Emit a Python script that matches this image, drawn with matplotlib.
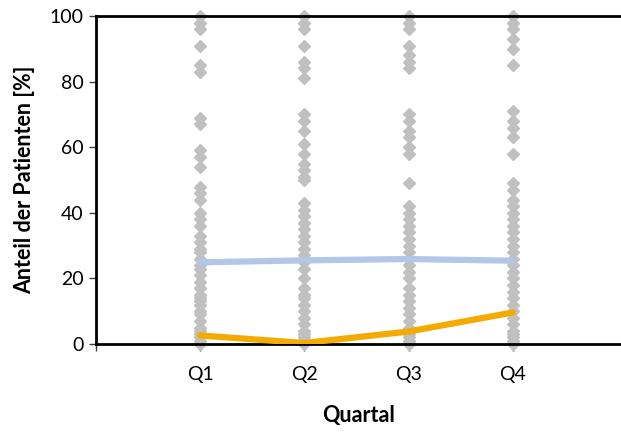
import matplotlib
matplotlib.use("Agg")
import matplotlib.pyplot as plt

# Quartale und Einzelwerte (Anteil der Patienten in %)
quartale = ['Q1', 'Q2', 'Q3', 'Q4']
q1_werte = [100, 98, 96, 91, 85, 83, 69, 67, 59, 57, 54, 48, 46, 44, 40, 38, 36, 33,
            31, 29, 28, 26, 24, 23, 21, 19, 17, 15, 14, 13, 12, 10, 9, 7, 5, 4, 3, 2, 1, 0]
q2_werte = [100, 98, 96, 91, 86, 84, 81, 70, 68, 65, 61, 58, 55, 53, 51, 50, 43, 41, 39,
            37, 35, 33, 31, 29, 27, 25, 23, 20, 17, 15, 14, 12, 10, 8, 6, 4, 3, 2, 1, 0]
q3_werte = [100, 98, 96, 91, 88, 86, 84, 70, 68, 65, 63, 60, 58, 49, 42, 40, 38, 36, 34,
            32, 30, 28, 26, 24, 22, 20, 17, 15, 13, 11, 9, 7, 5, 3, 2, 1, 0]
q4_werte = [100, 98, 96, 93, 90, 85, 71, 68, 66, 63, 58, 49, 47, 44, 42, 40, 38, 36, 34,
            32, 30, 28, 26, 24, 22, 20, 18, 16, 14, 12, 10, 8, 6, 4, 3, 2, 1, 0]
blau_linie = [24.9, 25.5, 25.9, 25.4]
orange_linie = [2.6, 0.3, 3.8, 9.6]

plt.rcParams['font.family'] = ['Lato', 'DejaVu Sans']

fig = plt.figure(figsize=(6.21, 4.32), dpi=100)
ax = fig.add_axes([96/621, 88/432, 525/621, 328/432])

alle = [q1_werte, q2_werte, q3_werte, q4_werte]
for i, werte in enumerate(alle):
    ax.plot([i + 1] * len(werte), werte, linestyle='none', marker='D', ms=6.3,
            color='#c0c0c0', clip_on=False, zorder=2)

xs = range(1, len(quartale) + 1)
ax.plot(xs, blau_linie, color='#b4c6e7', lw=4.5, solid_capstyle='round', zorder=3)
ax.plot(xs, orange_linie, color='#f4aa00', lw=4.5, solid_capstyle='round', zorder=3)

ax.set_xlim(0, 5 * 525 / 521)
ax.set_ylim(0, 100)
ax.set_xticks(range(0, 5))
ax.set_xticklabels([''] + quartale)
ax.set_yticks(range(0, 101, 20))

for s in ['left', 'bottom', 'top']:
    ax.spines[s].set_linewidth(2)
    ax.spines[s].set_color('black')
ax.spines['right'].set_visible(False)

ax.tick_params(axis='both', direction='out', length=5, width=1, color='#404040',
               labelsize=14, labelcolor='black')
ax.tick_params(axis='x', pad=11)
ax.tick_params(axis='y', pad=4)

ax.set_xlabel('Quartal', fontsize=15.5, fontweight='bold', labelpad=16)
ax.set_ylabel('Anteil der Patienten [%]', fontsize=15.5, fontweight='bold', labelpad=10)

fig.savefig('out.png', dpi=100)
